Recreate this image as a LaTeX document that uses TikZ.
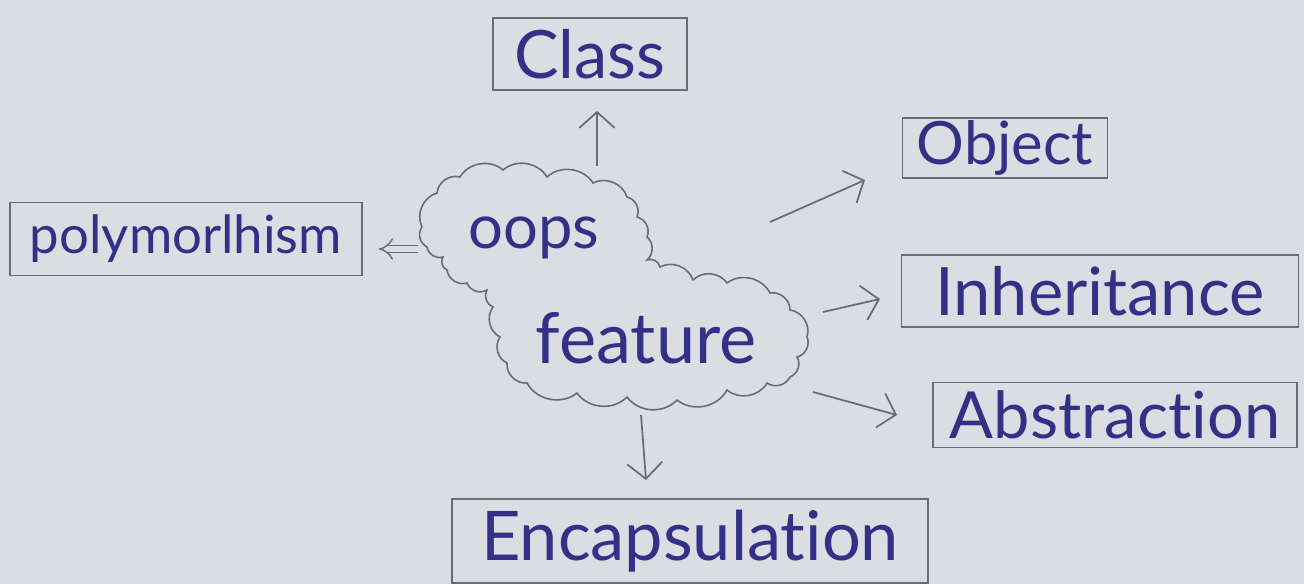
\documentclass[tikz,border=0pt]{standalone}
\usepackage{fontspec}
\setmainfont{Lato}[Ligatures=NoCommon]
\usetikzlibrary{arrows.meta}
\definecolor{paper}{RGB}{218,222,226}
\definecolor{pencil}{RGB}{105,108,112}
\definecolor{ink}{RGB}{52,48,135}
\begin{document}
\begin{tikzpicture}[x=0.02cm,y=-0.02cm,
  box/.style={draw=pencil,line width=1pt,inner sep=0pt},
  lbl/.style={text=ink,font=\fontsize{#1}{40}\selectfont},
  lbl/.default=34,
  arr/.style={draw=pencil,line width=1pt,-{Straight Barb[length=9pt,width=20pt]}}]
\fill[paper] (0,0) rectangle (1304,584);
\useasboundingbox (0,0) rectangle (1304,584);
% boxes
\node[box,lbl=30,minimum width=7.04cm,minimum height=1.46cm] (poly) at (186,239) {polymorlhism};
\node[box,lbl=38,minimum width=3.88cm,minimum height=1.44cm] (class) at (590,54) {Class};
\node[box,lbl=34,minimum width=4.1cm,minimum height=1.2cm] (object) at (1005,148) {Object};
\node[box,lbl=38,minimum width=7.94cm,minimum height=1.44cm] (inherit) at (1100,291) {Inheritance};
\node[box,lbl=37,minimum width=7.28cm,minimum height=1.3cm] (abstr) at (1115,415) {Abstraction};
\node[box,lbl=39,minimum width=9.52cm,minimum height=1.68cm] (encap) at (690,541) {Encapsulation};
% cloud
\draw[pencil,line width=0.9pt]
 (422,227) to[bend left=50] (437,193) to[bend left=50] (460,177) to[bend left=50] (503,170)
 to[bend left=50] (547,177) to[bend left=50] (593,183) to[bend left=50] (627,197)
 to[bend left=50] (637,217) to[bend left=50] (647,237) to[bend left=50] (647,260)
 to[bend left=50] (660,267) to[bend left=50] (693,280) to[bend left=50] (727,283)
 to[bend left=50] (770,293) to[bend left=50] (790,310) to[bend left=50] (807,337)
 to[bend left=50] (797,357) to[bend left=50] (790,377) to[bend left=50] (767,383)
 to[bend left=50] (727,390) to[bend left=50] (677,400) to[bend left=50] (627,397)
 to[bend left=50] (577,393) to[bend left=50] (527,383) to[bend left=50] (507,363)
 to[bend left=50] (500,337) to[bend left=50] (493,307) to[bend left=50] (487,290)
 to[bend left=50] (467,283) to[bend left=50] (447,270) to[bend left=50] (443,257)
 to[bend left=50] (427,247) to[bend left=50] (422,227);
\node[lbl=35] (oops) at (534,238) {oops};
\node[lbl=40] (feature) at (646,338) {feature};
% connector end points
\coordinate (cu) at (597,166);
\coordinate (co) at (770,222);
\coordinate (coe) at (865,180);
\coordinate (ci) at (823,312);
\coordinate (cie) at (880,299);
\coordinate (ca) at (813,392);
\coordinate (cae) at (897,415);
\coordinate (cd) at (641,415);
\coordinate (cde) at (646,480);
\coordinate (cp) at (418,249);
% connectors
\draw[arr,shorten >=0.4cm] (cu) -- (cu |- class.south);
\draw[arr] (co) -- (coe);
\draw[arr] (ci) -- (cie);
\draw[arr] (ca) -- (cae);
\draw[arr] (cd) -- (cde);
\draw[pencil,line width=0.8pt,double=paper,double distance=3.5pt,-{Implies},shorten >=0.32cm] (cp) -- (cp -| poly.east);
\end{tikzpicture}
\end{document}
